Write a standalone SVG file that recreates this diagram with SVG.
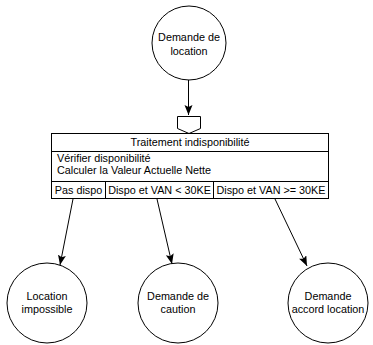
<svg xmlns="http://www.w3.org/2000/svg" width="373" height="345" viewBox="0 0 373 345">
<style>
text{font-family:"Liberation Sans",Arial,sans-serif;font-size:10.8px;fill:#000}
.c{text-anchor:middle}
.n{fill:#fff;stroke:#000;stroke-width:1}
.e{stroke:#000;stroke-width:1;fill:none}
</style>
<defs>
<marker id="ar" markerWidth="11" markerHeight="10" refX="10" refY="4" orient="auto" markerUnits="userSpaceOnUse">
<path d="M0,0 L10,4 L0,8 L2,4 Z" fill="#000"/>
</marker>
</defs>
<rect width="373" height="345" fill="#fff"/>
<g id="connectors">
<line class="e" x1="188.5" y1="80" x2="188.5" y2="115" marker-end="url(#ar)"/>
<line class="e" x1="73" y1="199" x2="60" y2="265" marker-end="url(#ar)"/>
<line class="e" x1="157" y1="199" x2="172" y2="264" marker-end="url(#ar)"/>
<line class="e" x1="275" y1="199" x2="307" y2="266" marker-end="url(#ar)"/>
</g>
<g id="n_demande_location">
<circle class="n" cx="189" cy="43" r="37"/>
<text class="c" x="189" y="41">Demande de</text>
<text class="c" x="189" y="55">location</text>
</g>
<g id="n_traitement">
<path class="n" d="M177.5,116.5 H200.5 V128.5 L189,133.5 L177.5,128.5 Z"/>
<rect class="n" x="51.5" y="133.5" width="277" height="65"/>
<line class="e" x1="51.5" y1="151.5" x2="328.5" y2="151.5"/>
<line class="e" x1="51.5" y1="181.5" x2="328.5" y2="181.5"/>
<line class="e" x1="105.5" y1="181.5" x2="105.5" y2="198.5"/>
<line class="e" x1="213.5" y1="181.5" x2="213.5" y2="198.5"/>
<text class="c" x="190" y="146">Traitement indisponibilité</text>
<text x="57" y="162">Vérifier disponibilité</text>
<text x="57" y="174">Calculer la Valeur Actuelle Nette</text>
<text class="c" x="78.5" y="194">Pas dispo</text>
<text class="c" x="159.5" y="194">Dispo et VAN &lt; 30KE</text>
<text class="c" x="271" y="194">Dispo et VAN &gt;= 30KE</text>
</g>
<g id="n_location_impossible">
<circle class="n" cx="47" cy="303" r="40"/>
<text class="c" x="47" y="300">Location</text>
<text class="c" x="47" y="313">impossible</text>
</g>
<g id="n_demande_caution">
<circle class="n" cx="178" cy="303" r="40"/>
<text class="c" x="178" y="300">Demande de</text>
<text class="c" x="178" y="313">caution</text>
</g>
<g id="n_demande_accord">
<circle class="n" cx="328" cy="303" r="40"/>
<text class="c" x="328" y="300">Demande</text>
<text class="c" x="328" y="313">accord location</text>
</g>
</svg>
